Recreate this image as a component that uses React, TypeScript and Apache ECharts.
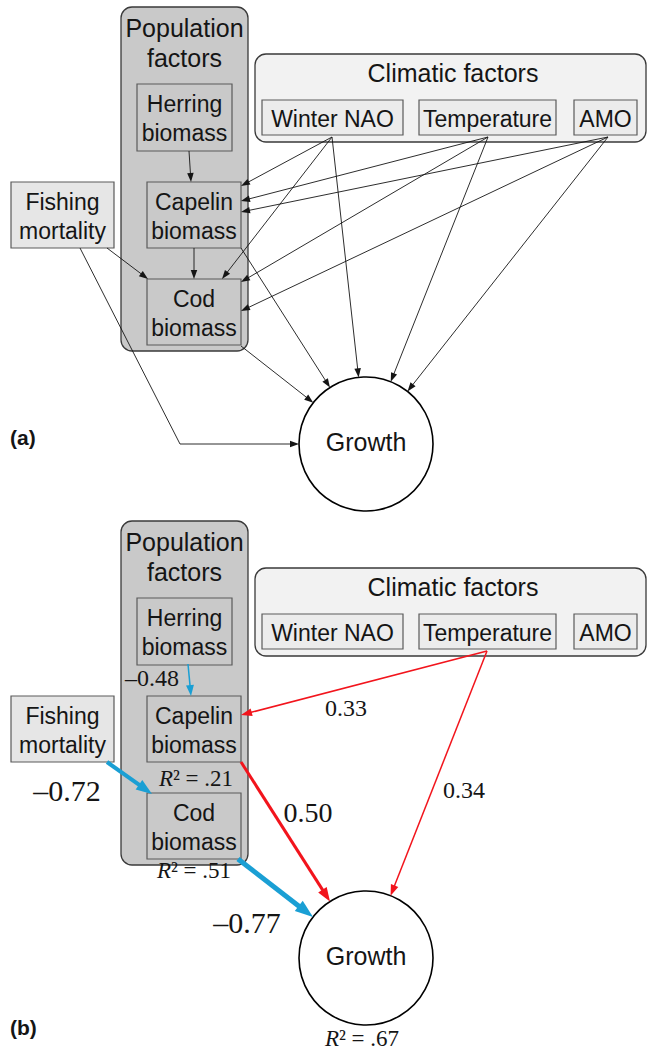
import React, { useEffect, useRef } from "react";
import * as echarts from "echarts";

// ---------------- data ----------------
const panelLabels = ["(a)", "(b)"];
const groupIds = ["population", "climatic"];
const groupTitles = ["Population\nfactors", "Climatic factors"];
const nodeIds = ["herring", "capelin", "cod", "fishing", "wnao", "temp", "amo"];
const nodeLabels = ["Herring\nbiomass", "Capelin\nbiomass", "Cod\nbiomass", "Fishing\nmortality", "Winter NAO", "Temperature", "AMO"];
const responseLabel = "Growth";

// hypothesised model (a)
const hypFrom = ["herring", "capelin", "fishing", "fishing", "cod", "capelin", "wnao", "wnao", "wnao", "temp", "temp", "temp", "amo", "amo", "amo"];
const hypTo = ["capelin", "cod", "cod", "growth", "growth", "growth", "capelin", "cod", "growth", "capelin", "cod", "growth", "capelin", "cod", "growth"];

// final model (b)
const finalFrom = ["herring", "fishing", "cod", "temp", "temp", "capelin"];
const finalTo = ["capelin", "cod", "growth", "capelin", "growth", "growth"];
const finalCoef = [-0.48, -0.72, -0.77, 0.33, 0.34, 0.5];

const r2Nodes = ["capelin", "cod", "growth"];
const r2Values = [0.21, 0.51, 0.67];

// ---------------- layout (pixels, panel-relative) ----------------
const W = 647;
const H = 1051;
const PANEL_DY = [0, 514];
const SANS = '"Liberation Sans", Arial, sans-serif';
const SERIF = '"Liberation Serif", "Times New Roman", serif';

const groupRect: Record<string, number[]> = {
  population: [121, 7, 127, 344],
  climatic: [255, 54, 391, 88],
};
const groupTitlePos: Record<string, number[]> = {
  population: [184.5, 43],
  climatic: [453, 73],
};
const groupFill: Record<string, string> = { population: "#c9c9c9", climatic: "#f2f2f2" };

const nodeRect: Record<string, number[]> = {
  herring: [137, 84, 95, 67],
  capelin: [147, 182, 94, 66],
  cod: [147, 279, 94, 66],
  fishing: [11, 182, 103, 66],
  wnao: [262, 100, 141, 35],
  temp: [419, 100, 137, 35],
  amo: [574, 100, 63, 35],
};
const nodeFill: Record<string, string> = {
  herring: "#c9c9c9", capelin: "#c9c9c9", cod: "#c9c9c9",
  fishing: "#e6e6e6", wnao: "#ececec", temp: "#ececec", amo: "#ececec",
};
const growthCircle = { cx: 366, cy: 444, r: 67 };

type Anchor = { s: number[]; e?: number[]; via?: number[] };
const anchorsA: Record<string, Anchor> = {
  "herring>capelin": { s: [189, 151], e: [191, 182] },
  "capelin>cod": { s: [194, 248], e: [194, 279] },
  "fishing>cod": { s: [107, 248], e: [148, 279] },
  "fishing>growth": { s: [80, 248], via: [180, 444] },
  "cod>growth": { s: [241, 346] },
  "capelin>growth": { s: [241, 248] },
  "wnao>capelin": { s: [332, 137], e: [241, 186] },
  "wnao>cod": { s: [332, 137], e: [222, 279] },
  "wnao>growth": { s: [332, 137] },
  "temp>capelin": { s: [488, 137], e: [241, 201] },
  "temp>cod": { s: [488, 137], e: [241, 282] },
  "temp>growth": { s: [488, 137] },
  "amo>capelin": { s: [608, 137], e: [241, 212] },
  "amo>cod": { s: [608, 137], e: [241, 311] },
  "amo>growth": { s: [608, 137] },
};
const anchorsB: Record<string, Anchor> = {
  "herring>capelin": { s: [188, 150], e: [191, 182] },
  "fishing>cod": { s: [107, 248], e: [152, 280] },
  "cod>growth": { s: [238, 345] },
  "temp>capelin": { s: [487, 137], e: [241, 201] },
  "temp>growth": { s: [487, 137] },
  "capelin>growth": { s: [241, 248] },
};
const widthB: Record<string, number> = {
  "herring>capelin": 1.5, "fishing>cod": 4, "cod>growth": 5,
  "temp>capelin": 1.5, "temp>growth": 1.5, "capelin>growth": 3,
};
const coefLabelPos: Record<string, number[]> = {
  "herring>capelin": [152, 164, 24],
  "fishing>cod": [67, 276, 30],
  "cod>growth": [247, 408, 30],
  "temp>capelin": [346, 194, 24],
  "temp>growth": [464, 276, 24],
  "capelin>growth": [308, 298, 28],
};
const r2Pos: Record<string, number[]> = {
  capelin: [196, 264],
  cod: [194, 356],
  growth: [362, 524],
};
const panelLabelPos = [[10, 437], [10, 513]];

const BLUE = "#1a9fd4";
const RED = "#f2141c";
const INK = "#151515";

// ---------------- derived drawing lists ----------------
type Edge = { pts: number[][]; color: string; width: number; head: number };

function buildEdge(a: Anchor, target: string, dy: number, color: string, width: number): Edge {
  const pts: number[][] = [[a.s[0], a.s[1] + dy]];
  if (a.via) pts.push([a.via[0], a.via[1] + dy]);
  if (target === "growth") {
    const last = pts[pts.length - 1];
    const cx = growthCircle.cx, cy = growthCircle.cy + dy;
    const dx = cx - last[0], dyy = cy - last[1];
    const len = Math.hypot(dx, dyy);
    pts.push([cx - (dx / len) * growthCircle.r, cy - (dyy / len) * growthCircle.r]);
  } else {
    pts.push([a.e![0], a.e![1] + dy]);
  }
  return { pts, color, width, head: 8 + 2 * width };
}

const edges: Edge[] = [];
hypFrom.forEach((f, i) => {
  const key = f + ">" + hypTo[i];
  edges.push({ ...buildEdge(anchorsA[key], hypTo[i], PANEL_DY[0], INK, 0.9), head: 9 });
});
finalFrom.forEach((f, i) => {
  const key = f + ">" + finalTo[i];
  edges.push(buildEdge(anchorsB[key], finalTo[i], PANEL_DY[1], finalCoef[i] < 0 ? BLUE : RED, widthB[key]));
});

type Txt = { x: number; y: number; text: string; size: number; family: string; align: string; weight?: string; rich?: boolean };
const texts: Txt[] = [];
finalFrom.forEach((f, i) => {
  const key = f + ">" + finalTo[i];
  const p = coefLabelPos[key];
  const v = finalCoef[i];
  const s = (v < 0 ? "\u2013" : "") + Math.abs(v).toFixed(2);
  texts.push({ x: p[0], y: p[1] + PANEL_DY[1], text: s, size: p[2], family: SERIF, align: "center" });
});
r2Nodes.forEach((n, i) => {
  const p = r2Pos[n];
  const s = r2Values[i].toFixed(2).replace(/^0/, "");
  texts.push({ x: p[0], y: p[1] + PANEL_DY[1], text: "{i|R}{n|\u00b2 = " + s + "}", size: 23, family: SERIF, align: "center", rich: true });
});
panelLabels.forEach((l, i) => {
  const p = panelLabelPos[i];
  texts.push({ x: p[0], y: p[1] + PANEL_DY[i], text: l, size: 21, family: SANS, align: "left", weight: "bold" });
});

export default function App() {
  const ref = useRef<HTMLDivElement>(null);
  useEffect(() => {
    document.body.style.margin = "0";
    const chart = echarts.init(ref.current!, undefined, { renderer: "svg" });

    const groupData: number[][] = [];
    PANEL_DY.forEach((dy, p) => groupIds.forEach((g, gi) => groupData.push([groupRect[g][0], groupRect[g][1] + dy, gi, p])));
    const nodeData: number[][] = [];
    PANEL_DY.forEach((dy, p) => nodeIds.forEach((n, ni) => nodeData.push([nodeRect[n][0], nodeRect[n][1] + dy, ni, p])));
    const growthData = PANEL_DY.map((dy, p) => [growthCircle.cx, growthCircle.cy + dy, p]);
    const edgeData = edges.map((e, i) => [e.pts[0][0], e.pts[0][1], i]);
    const textData = texts.map((t, i) => [t.x, t.y, i]);

    const option: any = {
      animation: false,
      backgroundColor: "#ffffff",
      grid: { left: 0, right: 0, top: 0, bottom: 0 },
      xAxis: { type: "value", min: 0, max: W, show: false },
      yAxis: { type: "value", min: 0, max: H, inverse: true, show: false },
      series: [
        {
          type: "custom",
          name: "groups",
          data: groupData,
          z: 1,
          renderItem: (params: any, api: any) => {
            const gi = api.value(2);
            const dy = PANEL_DY[api.value(3)];
            const id = groupIds[gi];
            const r = groupRect[id];
            const p0 = api.coord([api.value(0), api.value(1)]);
            const p1 = api.coord([r[0] + r[2], r[1] + r[3] + dy]);
            const t = groupTitlePos[id];
            const tp = api.coord([t[0], t[1] + dy]);
            return {
              type: "group",
              children: [
                {
                  type: "rect",
                  shape: { x: p0[0], y: p0[1], width: p1[0] - p0[0], height: p1[1] - p0[1], r: 11 },
                  style: { fill: groupFill[id], stroke: "#3a3a3a", lineWidth: 1.3 },
                },
                {
                  type: "text",
                  x: tp[0],
                  y: tp[1],
                  style: {
                    text: groupTitles[gi], fill: INK, fontSize: 25, fontFamily: SANS,
                    align: "center", verticalAlign: "middle", lineHeight: 30,
                  },
                },
              ],
            };
          },
        },
        {
          type: "custom",
          name: "variables",
          data: nodeData,
          z: 2,
          renderItem: (params: any, api: any) => {
            const ni = api.value(2);
            const dy = PANEL_DY[api.value(3)];
            const id = nodeIds[ni];
            const r = nodeRect[id];
            const p0 = api.coord([api.value(0), api.value(1)]);
            const p1 = api.coord([r[0] + r[2], r[1] + r[3] + dy]);
            return {
              type: "group",
              children: [
                {
                  type: "rect",
                  shape: { x: p0[0], y: p0[1], width: p1[0] - p0[0], height: p1[1] - p0[1] },
                  style: { fill: nodeFill[id], stroke: "#5a5a5a", lineWidth: 1.2 },
                },
                {
                  type: "text",
                  x: (p0[0] + p1[0]) / 2,
                  y: (p0[1] + p1[1]) / 2 + 1,
                  style: {
                    text: nodeLabels[ni], fill: INK, fontSize: 23, fontFamily: SANS,
                    align: "center", verticalAlign: "middle", lineHeight: 29,
                  },
                },
              ],
            };
          },
        },
        {
          type: "custom",
          name: "response",
          data: growthData,
          z: 2,
          renderItem: (params: any, api: any) => {
            const c = api.coord([api.value(0), api.value(1)]);
            const e = api.coord([api.value(0) + growthCircle.r, api.value(1)]);
            return {
              type: "group",
              children: [
                {
                  type: "circle",
                  shape: { cx: c[0], cy: c[1], r: e[0] - c[0] },
                  style: { fill: "#ffffff", stroke: "#000000", lineWidth: 1.6 },
                },
                {
                  type: "text",
                  x: c[0],
                  y: c[1] - 2,
                  style: { text: responseLabel, fill: INK, fontSize: 25, fontFamily: SANS, align: "center", verticalAlign: "middle" },
                },
              ],
            };
          },
        },
        {
          type: "custom",
          name: "paths",
          data: edgeData,
          z: 3,
          renderItem: (params: any, api: any) => {
            const e = edges[api.value(2)];
            const pts = e.pts.map((p) => api.coord(p));
            const n = pts.length;
            const tip = pts[n - 1];
            const prev = pts[n - 2];
            const dx = tip[0] - prev[0];
            const dy = tip[1] - prev[1];
            const len = Math.hypot(dx, dy);
            const ux = dx / len;
            const uy = dy / len;
            const L = e.head;
            const hw = (L * 0.72) / 2;
            const bx = tip[0] - ux * L;
            const by = tip[1] - uy * L;
            const linePts = pts.slice(0, n - 1).concat([[tip[0] - ux * L * 0.6, tip[1] - uy * L * 0.6]]);
            return {
              type: "group",
              children: [
                {
                  type: "polyline",
                  shape: { points: linePts },
                  style: { stroke: e.color, lineWidth: e.width, fill: "none" },
                },
                {
                  type: "polygon",
                  shape: { points: [tip, [bx - uy * hw, by + ux * hw], [bx + uy * hw, by - ux * hw]] },
                  style: { fill: e.color, stroke: "none" },
                },
              ],
            };
          },
        },
        {
          type: "custom",
          name: "labels",
          data: textData,
          z: 4,
          renderItem: (params: any, api: any) => {
            const t = texts[api.value(2)];
            const c = api.coord([api.value(0), api.value(1)]);
            const style: any = {
              text: t.text, fill: INK, fontSize: t.size, fontFamily: t.family,
              fontWeight: t.weight || "normal", align: t.align, verticalAlign: "middle",
            };
            if (t.rich) {
              style.rich = {
                i: { fontStyle: "italic", fontSize: t.size, fontFamily: t.family, fill: INK },
                n: { fontSize: t.size, fontFamily: t.family, fill: INK },
              };
            }
            return { type: "text", x: c[0], y: c[1], style };
          },
        },
      ],
    };
    chart.setOption(option);
    return () => chart.dispose();
  }, []);
  return <div ref={ref} style={{ width: W, height: H }} />;
}
